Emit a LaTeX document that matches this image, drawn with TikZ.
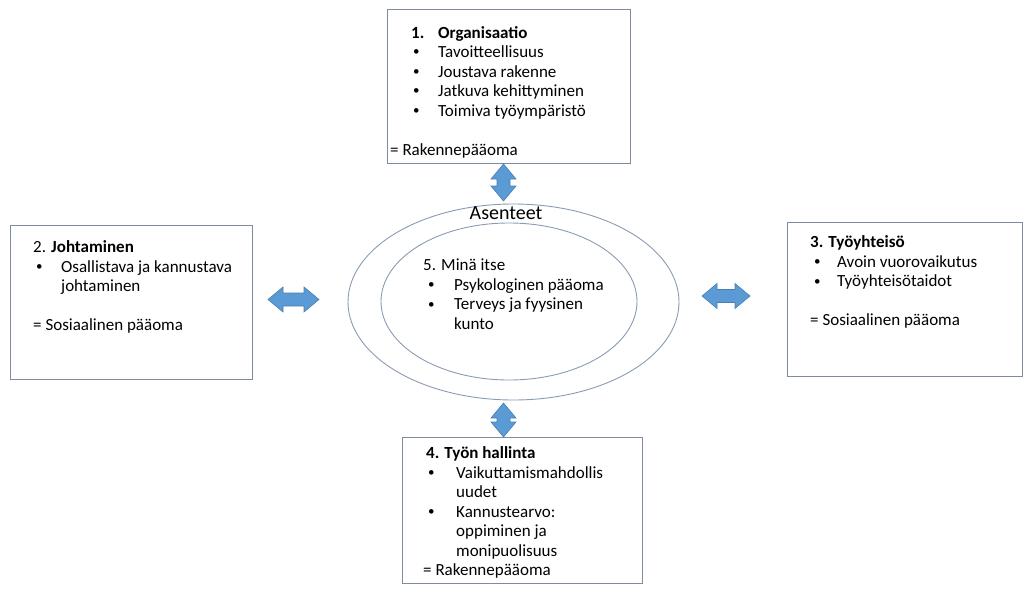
\documentclass[tikz,border=0pt]{standalone}
\usepackage{fontspec}
\setmainfont{Carlito}
\usetikzlibrary{shapes.geometric}

\definecolor{boxline}{HTML}{7F8C9E}
\definecolor{ringline}{HTML}{8A9BB3}
\definecolor{arrowfill}{HTML}{5B9BD5}
\definecolor{arrowline}{HTML}{4A7EB0}

% small bullet mark
\newcommand\dotmark{\raisebox{0.1em}{\fontsize{13}{13}\selectfont\textbullet}}
% bullet item: bullet indent, text indent, text
\newcommand\bitem[3]{\makebox[#2][l]{\hspace*{#1}\dotmark}#3}

% double-headed block arrow: centre, rotation, total length
\newcommand\dblarrow[3]{%
  \draw[blockarrow, shift={#1}, rotate=#2]
    (-#3/2,0) -- ++(15,12.5) -- ++(0,-6) -- (#3/2-15,6.5) -- ++(0,6)
    -- (#3/2,0) -- ++(-15,-12.5) -- ++(0,6) -- (-#3/2+15,-6.5) -- ++(0,-6) -- cycle;}

\tikzset{
  infobox/.style={draw=boxline, line width=0.9pt, fill=white, anchor=north west, inner sep=0pt},
  boxtext/.style={anchor=north west, inner sep=0pt, align=left,
                  font=\fontsize{17}{19.5}\selectfont},
  ring/.style={draw=ringline, line width=0.9pt, ellipse, inner sep=0pt},
  blockarrow/.style={fill=arrowfill, draw=arrowline, line width=0.6pt, line join=miter},
}

\begin{document}
\begin{tikzpicture}[x=1pt, y=-1pt]
\useasboundingbox (0,0) rectangle (1025,594);

% frames
\node[infobox, minimum width=243, minimum height=154] (org)  at (387,9)   {};
\node[infobox, minimum width=242, minimum height=154] (lead) at (10,225)  {};
\node[infobox, minimum width=235, minimum height=154] (comm) at (787,222) {};
\node[infobox, minimum width=240, minimum height=146] (ctrl) at (402,437) {};

% rings
\node[ring, minimum width=331, minimum height=196] (outer) at (513.5,302) {};
\node[ring, minimum width=256, minimum height=157] (inner) at (509,301.5) {};

% arrows between the parts
\coordinate (aTop)    at (503.5,182.5);
\coordinate (aLeft)   at (293.5,299.5);
\coordinate (aRight)  at (726,296);
\coordinate (aBottom) at (503.5,420);
\dblarrow{(aTop)}{90}{37}
\dblarrow{(aLeft)}{0}{51}
\dblarrow{(aRight)}{0}{48}
\dblarrow{(aBottom)}{90}{34}

% texts
\node[boxtext] (orgtxt) at (390,24.3) {%
  \strut\makebox[48pt][l]{\hspace*{21pt}\textbf{1.}}\textbf{Organisaatio}\\
  \bitem{23pt}{48pt}{Tavoitteellisuus}\\
  \bitem{23pt}{48pt}{Joustava rakenne}\\
  \bitem{23pt}{48pt}{Jatkuva kehittyminen}\\
  \bitem{23pt}{48pt}{Toimiva työympäristö}\\[19.5pt]
  = Rakennepääoma};

\node[boxtext] (leadtxt) at (33,239) {%
  \strut 2. \textbf{Johtaminen}\\
  \bitem{3pt}{28pt}{Osallistava ja kannustava}\\
  \hspace*{28pt}johtaminen\\[19.5pt]
  = Sosiaalinen pääoma};

\node[boxtext] (commtxt) at (810,234) {%
  \strut\textbf{3. Työyhteisö}\\
  \bitem{4pt}{27pt}{Avoin vuorovaikutus}\\
  \bitem{4pt}{27pt}{Työyhteisötaidot}\\[19.5pt]
  = Sosiaalinen pääoma};

\node[boxtext] (ctrltxt) at (423,445) {%
  \strut\hspace*{3pt}\textbf{4. Työn hallinta}\\
  \bitem{5pt}{33pt}{Vaikuttamismahdollis}\\
  \hspace*{33pt}uudet\\
  \bitem{5pt}{33pt}{Kannustearvo:}\\
  \hspace*{33pt}oppiminen ja\\
  \hspace*{33pt}monipuolisuus\\
  = Rakennepääoma};

\node[font=\fontsize{20}{24}\selectfont, inner sep=0pt] (att) at (506,213) {Asenteet};

\node[boxtext] (selftxt) at (423,257) {%
  \strut 5. Minä itse\\
  \bitem{5pt}{31pt}{Psykologinen pääoma}\\
  \bitem{5pt}{31pt}{Terveys ja fyysinen}\\
  \hspace*{31pt}kunto};
\end{tikzpicture}
\end{document}
